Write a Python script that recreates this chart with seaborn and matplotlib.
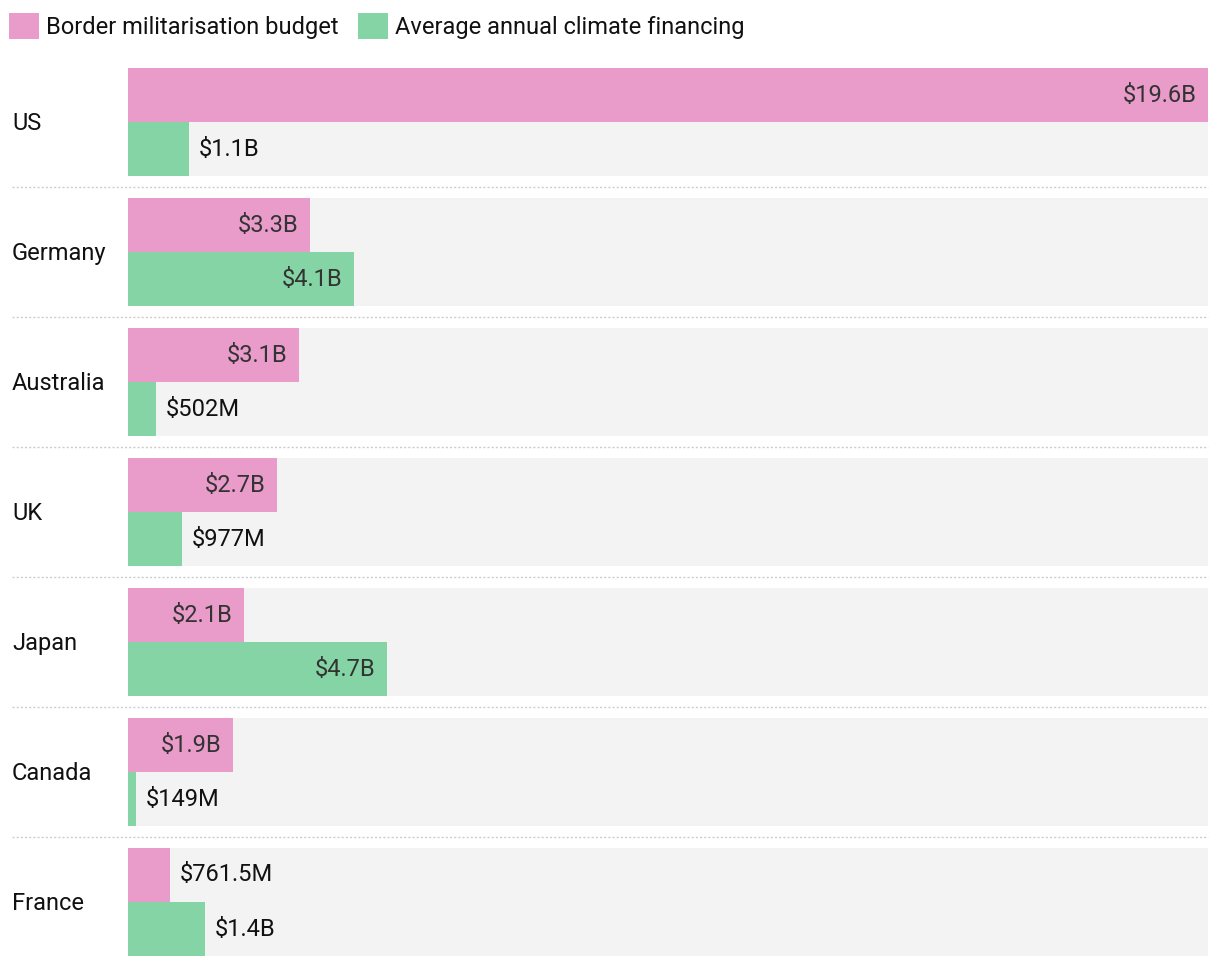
import pandas as pd
import numpy as np
import seaborn as sns
import matplotlib.pyplot as plt
from matplotlib.patches import Patch

countries = ["US", "Germany", "Australia", "UK", "Japan", "Canada", "France"]
border = [19.6, 3.3, 3.1, 2.7, 2.1, 1.9, 0.7615]
climate = [1.1, 4.1, 0.502, 0.977, 4.7, 0.149, 1.4]
border_labels = ["$19.6B", "$3.3B", "$3.1B", "$2.7B", "$2.1B", "$1.9B", "$761.5M"]
climate_labels = ["$1.1B", "$4.1B", "$502M", "$977M", "$4.7B", "$149M", "$1.4B"]
series = ["Border militarisation budget", "Average annual climate financing"]
colors = ["#E99BC9", "#85D4A5"]

df = pd.DataFrame({
    "country": countries * 2,
    "value": border + climate,
    "series": [series[0]] * len(countries) + [series[1]] * len(countries),
})

sns.set_style("white")
plt.rcParams["font.family"] = ["Roboto", "DejaVu Sans"]

fig = plt.figure(figsize=(12.2, 9.68), dpi=100)
W, H = 1220, 968
ax = fig.add_axes([128 / W, 1 - 956 / H, 1080 / W, 888 / H])

xmax = max(border)
group_h = 108 / 130

# grey background per country
ax.barh(np.arange(len(countries)), [xmax] * len(countries), height=group_h,
        color="#F3F3F3", linewidth=0, zorder=0)

sns.barplot(data=df, y="country", x="value", hue="series", orient="h",
            palette=colors, width=group_h, dodge=True, saturation=1,
            linewidth=0, legend=False, ax=ax, zorder=2)

ax.set_xlim(0, xmax)
ax.set_ylim(len(countries) - 1 + group_h / 2, -group_h / 2)
ax.set_xticks([])
ax.set_yticks([])
ax.set_xlabel("")
ax.set_ylabel("")
sns.despine(ax=ax, left=True, bottom=True)

fs = 17
px = xmax / 1080  # data units per pixel
for i, c in enumerate(countries):
    ax.text(-116 / 1080, i + 0.01, c, transform=ax.get_yaxis_transform(),
            ha="left", va="center", fontsize=fs, color="#111111")
    for vals, labs, sign in [(border, border_labels, -1), (climate, climate_labels, 1)]:
        y = i + sign * group_h / 4
        v = vals[i]
        if v > 1.5:
            ax.text(v - 11 * px, y, labs[i], ha="right", va="center",
                    fontsize=fs, color="#333333", zorder=3)
        else:
            ax.text(v + 10 * px, y, labs[i], ha="left", va="center",
                    fontsize=fs, color="#111111", zorder=3)
    if i < len(countries) - 1:
        ax.plot([-116 / 1080, 1], [i + 0.5, i + 0.5], transform=ax.get_yaxis_transform(),
                color="#CCCCCC", lw=1, ls=(0, (1.5, 1.5)), clip_on=False)

handles = [Patch(facecolor=colors[0], edgecolor="none"),
           Patch(facecolor=colors[1], edgecolor="none")]
fig.legend(handles, series, loc="upper left", bbox_to_anchor=(9 / W, 1 - 13 / H),
           ncol=2, frameon=False, fontsize=fs, handlelength=1.25, handleheight=1.3,
           handletextpad=0.3, columnspacing=0.85, borderpad=0, borderaxespad=0,
           labelcolor="#111111")

fig.savefig("out.png", dpi=100)
